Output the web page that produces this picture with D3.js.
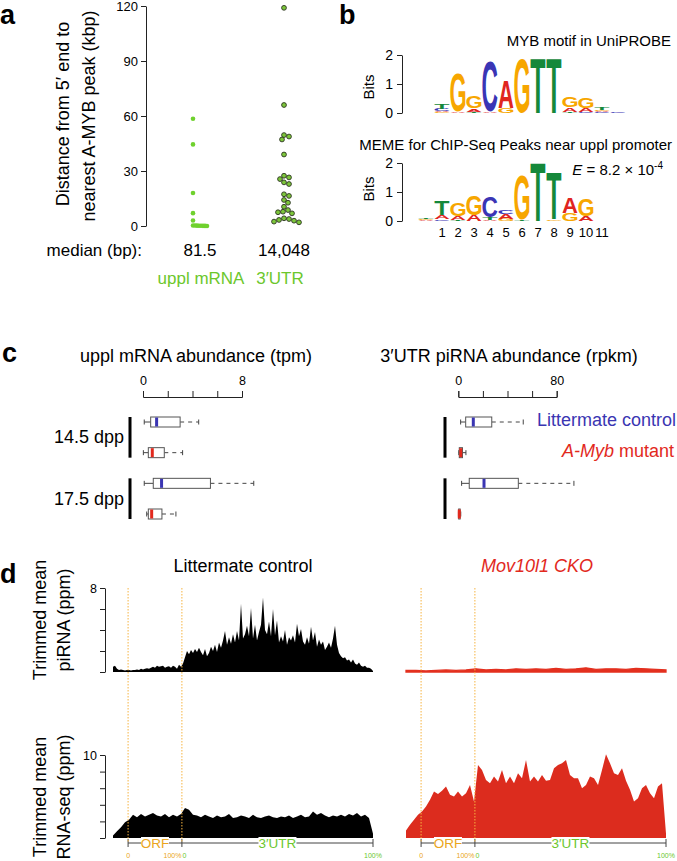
<!DOCTYPE html>
<html><head><meta charset="utf-8">
<script src="https://cdn.jsdelivr.net/npm/d3@7"></script>
<style>
body{margin:0;background:#fff}
svg{display:block}
text{font-family:"Liberation Sans",Arial,Helvetica,sans-serif}
</style>
</head><body>
<svg id="fig" width="677" height="861"></svg>
<script>
// ---------------- DATA ----------------
// Panel a
const distCategories = ["uppl mRNA", "3′UTR"];
const distMedians = ["81.5", "14,048"];
const distTicks = [0, 30, 60, 90, 120];
const distUppl = [58.5, 44.5, 18, 7, 3, 0.3, 0.25, 0.2, 0.15, 0.1, 0.08, 0.05, 0.03];
const distUtr = [119, 66, 49.6, 48.8, 47.2, 39, 27.4, 26.5, 25.6, 23.8, 22.9, 17.3, 16.4, 14.2,
                 12.7, 10.5, 8.7, 7.8, 7.5, 6.9, 4.2, 3.8, 3.3, 2.9, 2.4, 2.0];

// Panel b: motif logos (stack bottom -> top, [letter, bits])
const bitsTicks = [0, 1, 2];
const uniprobeLogo = [
  [["G",0.03],["A",0.05],["C",0.07],["T",0.17]],
  [["A",0.06],["G",1.32]],
  [["T",0.05],["A",0.1],["G",0.42]],
  [["A",0.03],["C",1.72]],
  [["G",0.18],["A",0.95]],
  [["G",1.84]],
  [["T",1.86]],
  [["T",1.86]],
  [["T",0.05],["A",0.15],["G",0.36]],
  [["C",0.04],["A",0.12],["G",0.34]],
  [["C",0.03],["A",0.04],["G",0.05],["T",0.09]],
  [["C",0.03],["A",0.02]]
];
const memeLogo = [
  [["A",0.03],["G",0.04],["T",0.04]],
  [["C",0.06],["A",0.15],["T",0.5]],
  [["T",0.03],["A",0.15],["G",0.45]],
  [["A",0.2],["G",0.69]],
  [["A",0.05],["T",0.08],["C",0.73]],
  [["G",0.07],["A",0.16],["C",0.13]],
  [["T",0.05],["G",1.55]],
  [["T",2.0]],
  [["G",0.06],["T",1.6]],
  [["G",0.27],["A",0.53]],
  [["A",0.17],["G",0.58]],
  []
];
const motifPositions = ["1","2","3","4","5","6","7","8","9","10","11"];

// Panel c: box stats [whiskerLow, q1, median, q3, whiskerHigh]
const boxStages = ["14.5 dpp", "17.5 dpp"];
const boxGenotypes = ["Littermate control", "A-Myb mutant"];
const mrnaTicks = [0, 2, 4, 6, 8];
const mrnaStats = [
  [0.1, 0.62, 1.1, 3.0, 4.5],
  [0.03, 0.43, 0.75, 1.72, 3.2],
  [0.1, 0.83, 1.5, 5.45, 8.95],
  [0.3, 0.43, 0.7, 1.53, 2.66]
];
const pirnaTicks = [0, 20, 40, 60, 80];
const pirnaStats = [
  [1.9, 6, 12.2, 27.2, 52.8],
  [0.4, 0.8, 2.0, 3.4, 6.2],
  [2.7, 8.9, 20.9, 48.8, 94],
  [0.1, 0.3, 0.8, 1.5, 2.0]
];

// Panel d: metagene profiles (evenly spaced along plotted span)
const regionBounds = [0.058, 0.265, 1.0]; // ORF start, 3'UTR start, end (fraction of span)
const piTicks = [0, 2, 4, 6, 8];
const rnaTicks = [0, 2, 4, 6, 8, 10];
const piControl = [
  0.5,0.6,0.3,0.2,0.25,0.2,0.15,0.2,
  0.2,0.15,0.2,0.2,0.25,0.2,0.3,0.25,0.3,0.35,0.3,0.4,0.5,0.4,0.6,0.5,0.55,0.6,0.4,0.5,0.55,0.4,0.6,0.5,0.3,0.7,0.5,
  0.8,1.4,2.0,1.7,2.1,1.8,2.2,1.9,2.3,
  1.9,1.6,2.2,1.5,1.8,2.4,
  2.0,2.6,1.9,2.8,2.3,3.0,
  3.9,2.6,3.3,2.7,3.6,2.8,
  3.9,3.0,6.5,3.2,3.6,4.4,
  3.4,6.1,3.2,4.5,3.0,3.8,
  4.5,7.1,4.0,3.6,4.8,3.4,
  6.0,3.5,4.9,2.8,3.4,2.9,
  4.0,2.6,3.3,3.0,3.5,2.8,
  4.6,3.4,4.1,2.9,2.6,3.3,
  2.7,4.3,3.0,3.8,2.4,3.1,
  2.6,2.9,2.1,2.4,2.8,2.3,
  3.2,4.4,2.6,1.8,1.5,1.3,
  1.4,1.1,1.2,0.9,1.2,0.8,
  0.7,0.9,0.6,0.5,0.6,0.4,
  0.4,0.3,0.1
];
const piCKO = [0.15,0.15,0.1,0.15,0.2,0.15,0.2,0.3,0.2,0.25,0.2,0.3,0.25,0.3,0.25,0.35,0.25,0.3,0.4,0.25,0.3,0.3,0.25,0.35,0.3,0.25,0.2];
const rnaControl = [
  0.3,0.8,1.3,1.9,2.2,2.8,2.5,2.9,2.6,2.8,3.0,2.7,2.6,2.9,2.5,2.8,2.6,2.9,3.6,3.4,
  2.8,2.7,2.5,2.8,2.6,2.4,2.7,2.5,2.6,2.9,2.4,2.5,2.7,2.6,2.4,2.8,2.5,2.4,2.6,2.7,
  2.5,2.4,2.6,2.5,2.7,2.4,2.6,2.8,2.5,2.6,3.2,2.8,3.0,2.7,2.5,2.7,2.6,2.8,2.6,2.9,
  2.7,3.0,2.6,2.8,2.4,0.5
];
const rnaCKO = [
  0.9,1.6,2.2,2.8,3.2,3.8,4.6,5.6,5.3,5.7,6.2,5.2,5.0,5.6,5.0,5.4,6.4,4.4,8.8,8.2,
  7.0,6.6,7.4,6.8,8.2,6.6,7.4,6.6,7.8,7.2,9.4,6.8,7.4,6.8,7.6,6.9,7.0,8.4,8.8,9.0,
  9.4,7.6,7.2,7.2,6.0,6.4,7.4,7.2,6.4,8.2,10.1,9.0,7.8,7.6,8.4,6.9,5.8,4.4,4.8,6.0,
  6.4,5.4,4.8,6.2,6.6,0.5
];

// ---------------- DRAWING ----------------
const svg = d3.select("#fig");
const GREEN = "#6cc72c", BLUE = "#3a35b2", RED = "#e2291d", ORANGE = "#eaa520";
const BIG = 18;

function txt(x, y, s, size, opts = {}) {
  const t = svg.append("text").attr("x", x).attr("y", y).attr("font-size", size).text(s);
  if (opts.anchor) t.attr("text-anchor", opts.anchor);
  if (opts.fill) t.attr("fill", opts.fill);
  if (opts.weight) t.attr("font-weight", opts.weight);
  if (opts.style) t.attr("font-style", opts.style);
  if (opts.rotate) t.attr("transform", `rotate(-90,${x},${y})`);
  return t;
}

// Panel letters
[["a",0,24],["b",339,24],["c",2,362],["d",0,583]].forEach(([l,x,y]) => txt(x, y, l, 27, {weight:"bold"}));

// ---- Panel a ----
const yA = d3.scaleLinear().domain([0, 120]).range([226, 6]);
const xA = d3.scalePoint().domain(distCategories).range([196, 284]);
const axA = svg.append("g").attr("transform", "translate(146,0)")
  .call(d3.axisLeft(yA).tickValues(distTicks).tickSize(5).tickSizeOuter(0).tickPadding(3));
axA.selectAll("text").attr("font-size", 13).attr("font-family", '"Liberation Sans",Arial,sans-serif');
axA.selectAll("path,line").attr("stroke", "#222");

txt(69, 114, "Distance from 5′ end to", BIG, {anchor:"middle", rotate:true});
txt(95, 116, "nearest A-MYB peak (kbp)", BIG, {anchor:"middle", rotate:true});

function dodge(values, cx, r, minDist, oneSided) {
  const placed = [];
  values.slice().sort((a, b) => b - a).forEach(v => {
    const y = yA(v);
    for (let k = 0; k < 200; k++) {
      const off = oneSided ? k * 1 : (k % 2 ? 1 : -1) * Math.ceil(k / 2) * 1;
      const x = cx + off;
      if (placed.every(p => Math.hypot(p.x - x, p.y - y) >= minDist)) { placed.push({x, y, v}); break; }
    }
  });
  return placed;
}
const ptsU = dodge(distUppl, xA(distCategories[0]) - 3, 2.3, 2.0, true);
svg.append("g").selectAll("circle").data(ptsU).join("circle")
  .attr("cx", d => d.x).attr("cy", d => d.y).attr("r", 2.3).attr("fill", "#6fd12e");
const ptsT = dodge(distUtr, xA(distCategories[1]), 2.4, 4.6, false);
svg.append("g").selectAll("circle").data(ptsT).join("circle")
  .attr("cx", d => d.x).attr("cy", d => d.y).attr("r", 2.4).attr("fill", "#7cc63a")
  .attr("stroke", "#2b3320").attr("stroke-width", 0.9);

txt(142, 256, "median (bp):", 17, {anchor:"end"});
distCategories.forEach((c, i) => {
  txt(xA(c) + (i === 0 ? 4 : 0), 256, distMedians[i], 17, {anchor:"middle"});
});
txt(201, 284, distCategories[0], 17, {anchor:"middle", fill:GREEN});
txt(280, 284, distCategories[1], 17, {anchor:"middle", fill:GREEN});

// ---- Panel b ----
const letterColor = {A:"#e0251f", C:"#3a35b5", G:"#f7a600", T:"#15883a"};
const cv = document.createElement("canvas").getContext("2d");
cv.font = 'bold 100px "Liberation Sans"';
const metrics = {};
"ACGT".split("").forEach(L => {
  const m = cv.measureText(L);
  metrics[L] = {l: m.actualBoundingBoxLeft, r: m.actualBoundingBoxRight, a: m.actualBoundingBoxAscent, d: m.actualBoundingBoxDescent};
});
function drawLogo(cols, xBand, yBits) {
  const g = svg.append("g");
  cols.forEach((stack, i) => {
    let acc = 0;
    const x0 = xBand(i) + 0.5, w = xBand.bandwidth() - 1;
    stack.forEach(([L, b]) => {
      const yB = yBits(acc), yT = yBits(acc + b); acc += b;
      const h = yB - yT; if (h < 0.8) return;
      const m = metrics[L];
      const sx = w / (m.l + m.r), sy = h / (m.a + m.d);
      g.append("text").text(L).attr("font-weight", "bold").attr("font-size", 100)
        .attr("fill", letterColor[L])
        .attr("transform", `translate(${x0},${yB}) scale(${sx},${sy}) translate(${m.l},${-m.d})`);
    });
  });
}
function bitsAxis(yScale, cy) {
  const ax = svg.append("g").attr("transform", "translate(402,0)")
    .call(d3.axisLeft(yScale).tickValues(bitsTicks).tickFormat(d3.format("d")).tickSize(5).tickSizeOuter(0).tickPadding(4));
  ax.selectAll("text").attr("font-size", 14).attr("font-family", '"Liberation Sans",Arial,sans-serif');
  ax.selectAll("path,line").attr("stroke", "#222");
  txt(374, cy, "Bits", 15, {anchor:"middle", rotate:true});
}
const yLogo1 = d3.scaleLinear().domain([0, 2]).range([113, 55]);
const yLogo2 = d3.scaleLinear().domain([0, 2]).range([221, 163]);
txt(671, 46, "MYB motif in UniPROBE", 15, {anchor:"end"});
bitsAxis(yLogo1, 87);
drawLogo(uniprobeLogo, d3.scaleBand().domain(d3.range(uniprobeLogo.length)).range([434, 626]), yLogo1);
txt(672, 150, "MEME for ChIP-Seq Peaks near uppl promoter", 15, {anchor:"end"});
bitsAxis(yLogo2, 189);
const xMeme = d3.scaleBand().domain(d3.range(memeLogo.length)).range([418, 610]);
drawLogo(memeLogo, xMeme, yLogo2);
motifPositions.forEach((p, i) => txt(xMeme(i + 1) + xMeme.bandwidth() / 2, 237, p, 13, {anchor:"middle"}));
const eT = svg.append("text").attr("x", 663).attr("y", 175).attr("font-size", 15).attr("text-anchor", "end");
eT.append("tspan").attr("font-style", "italic").text("E");
eT.append("tspan").text(" = 8.2 × 10");
eT.append("tspan").attr("font-size", 10).attr("dy", -6).text("-4");

// ---- Panel c ----
const yRows = d3.scalePoint().domain(d3.range(4)).range([422, 514]);
function boxPanel(stats, ticks, x0, x1, title, titleX, barX) {
  const xs = d3.scaleLinear().domain([ticks[0], ticks[ticks.length - 1]]).range([x0, x1]);
  txt(titleX, 362, title, BIG, {anchor:"middle"});
  const ax = svg.append("g").attr("transform", "translate(0,397)")
    .call(d3.axisTop(xs).tickValues(ticks).tickSize(6).tickSizeOuter(6).tickPadding(6)
      .tickFormat(d => (d === ticks[0] || d === ticks[ticks.length - 1]) ? d : ""));
  ax.selectAll("text").attr("font-size", 12.5).attr("font-family", '"Liberation Sans",Arial,sans-serif');
  ax.selectAll("path,line").attr("stroke", "#222");
  [0, 2].forEach(r => {
    svg.append("rect").attr("x", barX - 1.5).attr("width", 3)
      .attr("y", yRows(r) - 5).attr("height", yRows(r + 1) - yRows(r) + 10).attr("fill", "#000");
  });
  const g = svg.append("g");
  stats.forEach((s, i) => {
    const y = yRows(i), hh = 5;
    const col = i % 2 === 0 ? BLUE : RED;
    g.append("line").attr("x1", xs(s[0])).attr("x2", xs(s[1])).attr("y1", y).attr("y2", y).attr("stroke", "#444");
    g.append("line").attr("x1", xs(s[3])).attr("x2", xs(s[4])).attr("y1", y).attr("y2", y)
      .attr("stroke", "#444").attr("stroke-dasharray", "4,4");
    [s[0], s[4]].forEach(v => g.append("line").attr("x1", xs(v)).attr("x2", xs(v))
      .attr("y1", y - 2.5).attr("y2", y + 2.5).attr("stroke", "#444"));
    g.append("rect").attr("x", xs(s[1])).attr("y", y - hh).attr("width", Math.max(0.5, xs(s[3]) - xs(s[1])))
      .attr("height", 2 * hh).attr("fill", "#fff").attr("stroke", "#555").attr("stroke-width", 1);
    g.append("line").attr("x1", xs(s[2])).attr("x2", xs(s[2])).attr("y1", y - hh + 0.5).attr("y2", y + hh - 0.5)
      .attr("stroke", col).attr("stroke-width", 3);
  });
}
boxPanel(mrnaStats, mrnaTicks, 143, 242, "uppl mRNA abundance (tpm)", 196, 130);
boxPanel(pirnaStats, pirnaTicks, 458.3, 556.7, "3′UTR piRNA abundance (rpkm)", 509, 445);
boxStages.forEach((s, k) => txt(124, (yRows(2 * k) + yRows(2 * k + 1)) / 2 + 6, s, BIG, {anchor:"end"}));
txt(537, 426, boxGenotypes[0], BIG, {fill:BLUE});
const lg2 = svg.append("text").attr("x", 562).attr("y", 457).attr("font-size", BIG).attr("fill", RED);
lg2.append("tspan").attr("font-style", "italic").text("A-Myb");
lg2.append("tspan").text(" mutant");

// ---- Panel d ----
txt(243, 572, "Littermate control", BIG, {anchor:"middle"});
txt(537, 572, "Mov10l1 CKO", BIG, {anchor:"middle", fill:RED, style:"italic"});
txt(46, 620, "Trimmed mean", BIG, {anchor:"middle", rotate:true});
txt(70, 620, "piRNA (ppm)", BIG, {anchor:"middle", rotate:true});
txt(46, 797, "Trimmed mean", BIG, {anchor:"middle", rotate:true});
txt(70, 797, "RNA-seq (ppm)", BIG, {anchor:"middle", rotate:true});

const yPi = d3.scaleLinear().domain([0, 8]).range([672, 588]);
const yRna = d3.scaleLinear().domain([0, 10]).range([838, 755]);
function leftAxis(ys, ticks) {
  const top = ticks[ticks.length - 1];
  const ax = svg.append("g").attr("transform", "translate(105,0)")
    .call(d3.axisLeft(ys).tickValues(ticks).tickSize(5).tickSizeOuter(0).tickPadding(3)
      .tickFormat(d => d === top ? d : ""));
  ax.selectAll("text").attr("font-size", 12.5).attr("font-family", '"Liberation Sans",Arial,sans-serif');
  ax.selectAll("path,line").attr("stroke", "#222");
}
leftAxis(yPi, piTicks);
leftAxis(yRna, rnaTicks);

function profile(values, span, ys, color, strokeW) {
  const xs = d3.scaleLinear().domain([0, values.length - 1]).range(span);
  const area = d3.area().x((d, i) => xs(i)).y0(ys(0)).y1(d => ys(d));
  svg.append("path").datum(values).attr("d", area).attr("fill", color)
    .attr("stroke", strokeW ? color : "none").attr("stroke-width", strokeW || 0);
}
const spans = [[113, 373], [406, 666]];
profile(piControl, spans[0], yPi, "#000");
profile(piCKO, spans[1], yPi, "#e3301f", 1.3);
profile(rnaControl, spans[0], yRna, "#000");
profile(rnaCKO, spans[1], yRna, "#dc2c1e");

spans.forEach(sp => {
  const fx = d3.scaleLinear().domain([0, 1]).range(sp);
  const xo = fx(regionBounds[0]), xu = fx(regionBounds[1]), xe = fx(regionBounds[2]);
  const ly = 843;
  svg.append("line").attr("x1", xo).attr("x2", xe).attr("y1", ly).attr("y2", ly).attr("stroke", "#444");
  [xo, xu, xe].forEach(x => svg.append("line").attr("x1", x).attr("x2", x).attr("y1", ly - 4).attr("y2", ly + 4).attr("stroke", "#444"));
  const oc = (xo + xu) / 2, uc = (xu + xe) / 2;
  svg.append("rect").attr("x", oc - 14).attr("y", ly - 6).attr("width", 28).attr("height", 12).attr("fill", "#fff");
  svg.append("rect").attr("x", uc - 19).attr("y", ly - 6).attr("width", 38).attr("height", 12).attr("fill", "#fff");
  txt(oc, ly + 5, "ORF", 13.5, {anchor:"middle", fill:ORANGE});
  txt(uc, ly + 5, "3′UTR", 13.5, {anchor:"middle", fill:GREEN});
  txt(xo, 858, "0", 7, {anchor:"middle", fill:ORANGE});
  txt(xu - 0.5, 858, "100%", 7, {anchor:"end", fill:ORANGE});
  txt(xu + 0.5, 858, "0", 7, {fill:GREEN});
  txt(xe, 858, "100%", 7, {anchor:"middle", fill:GREEN});
  [xo, xu].forEach(x => svg.append("line").attr("x1", x).attr("x2", x).attr("y1", 588).attr("y2", 843)
    .attr("stroke", "#f6b440").attr("stroke-width", 1).attr("stroke-dasharray", "1.5,1.5"));
});
</script>
</body></html>
